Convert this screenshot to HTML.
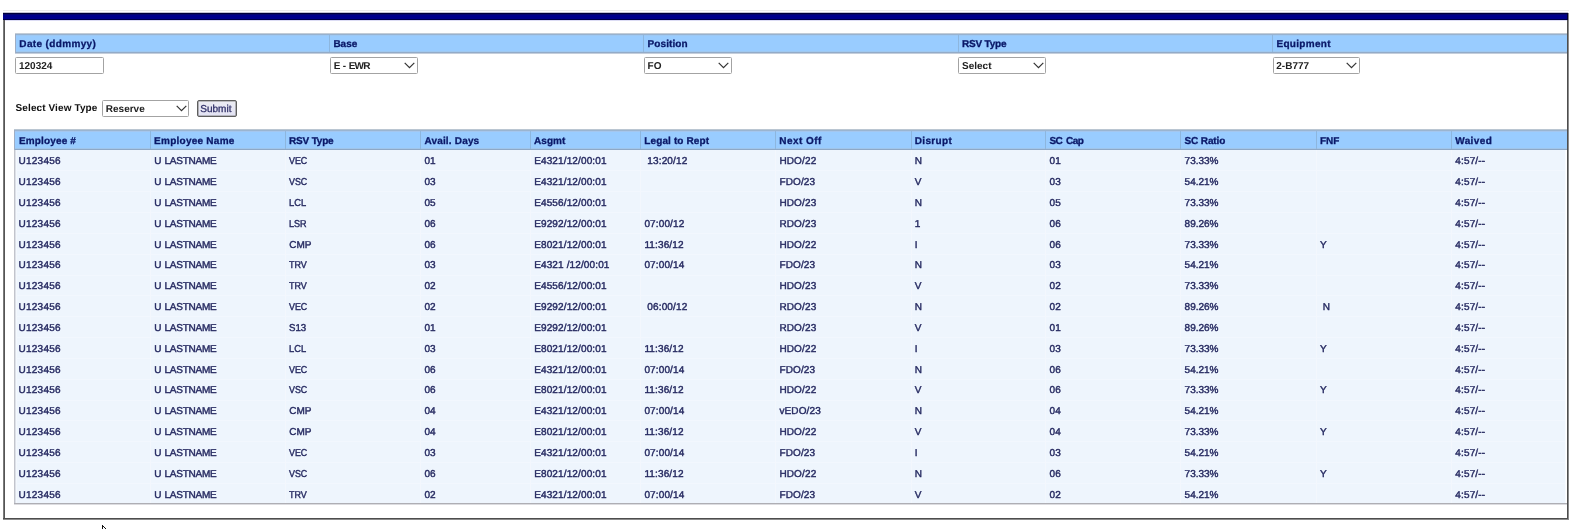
<!DOCTYPE html>
<html><head><meta charset="utf-8"><title>Reserve View</title>
<style>
html,body{margin:0;padding:0;background:#fff;}
body{width:1573px;height:529px;overflow:hidden;position:relative;
 font-family:"Liberation Sans",sans-serif;font-size:10px;line-height:12px;text-rendering:geometricPrecision;}
i{position:absolute;display:block;}
#root{position:absolute;left:0;top:0;width:1573px;height:529px;overflow:hidden;background:#fff;will-change:transform;}
.hd{position:absolute;font-weight:bold;color:#0a1868;white-space:pre;-webkit-text-stroke:0.3px #0a1868;}
.cl{position:absolute;color:#272b62;white-space:pre;-webkit-text-stroke:0.42px #272b62;}
.bx{position:absolute;box-sizing:border-box;background:#fff;border:1px solid #a3a3a3;border-radius:1.5px;}
.tx{position:absolute;color:#222;font-weight:bold;white-space:pre;}
.chev{position:absolute;}
</style></head><body><div id="root">

<i style="left:3px;top:10px;width:1566px;height:1px;background:#ededed"></i>
<i style="left:3px;top:12px;width:1565px;height:1px;background:#c4c4d4"></i>
<i style="left:3px;top:13px;width:1565px;height:1px;background:#00003a"></i>
<i style="left:3px;top:14px;width:1565px;height:1px;background:#06066e"></i>
<i style="left:3px;top:15px;width:1565px;height:4px;background:#00008c"></i>
<i style="left:3px;top:19px;width:1565px;height:1px;background:#000048"></i>
<i style="left:3px;top:20px;width:1565px;height:1px;background:#dcdcf4"></i>
<i style="left:1567px;top:13px;width:1px;height:7px;background:#000030"></i>
<i style="left:3px;top:20px;width:1px;height:499px;background:#7a7a7a"></i>
<i style="left:4px;top:20px;width:1px;height:498px;background:#555555"></i>
<i style="left:1567px;top:20px;width:1px;height:499px;background:#4d4d4d"></i>
<i style="left:1568px;top:13px;width:1px;height:506px;background:#8c8c8c"></i>
<i style="left:3px;top:518px;width:1565px;height:1px;background:#4d4d4d"></i>
<i style="left:3px;top:519px;width:1566px;height:1px;background:#8c8c8c"></i>
<i style="left:15px;top:33px;width:1552px;height:1px;background:#c3ccd6"></i>
<i style="left:15px;top:34px;width:1552px;height:1px;background:#97b2d0"></i>
<i style="left:15px;top:35px;width:1552px;height:1px;background:#9ec8f2"></i>
<i style="left:15px;top:36px;width:1552px;height:15px;background:#99ccff"></i>
<i style="left:15px;top:51px;width:1552px;height:1px;background:#9fc8ef"></i>
<i style="left:15px;top:52px;width:1552px;height:1px;background:#93abc8"></i>
<i style="left:15px;top:53px;width:1552px;height:1px;background:#c4cedb"></i>
<i style="left:15px;top:34px;width:1px;height:19px;background:#9eadc4"></i>
<i style="left:329px;top:35px;width:1px;height:17px;background:#8db6de"></i>
<i style="left:643px;top:35px;width:1px;height:17px;background:#8db6de"></i>
<i style="left:958px;top:35px;width:1px;height:17px;background:#8db6de"></i>
<i style="left:1272px;top:35px;width:1px;height:17px;background:#8db6de"></i>
<div class="hd" style="left:19.3px;top:39px;letter-spacing:0.36px">Date (ddmmyy)</div>
<div class="hd" style="left:333.4px;top:39px;letter-spacing:0px">Base</div>
<div class="hd" style="left:647.6px;top:39px;letter-spacing:0.08px">Position</div>
<div class="hd" style="left:962px;top:39px;letter-spacing:-0.2px">RSV Type</div>
<div class="hd" style="left:1276.4px;top:39px;letter-spacing:0.32px">Equipment</div>
<div class="bx" style="left:15px;top:57px;width:89px;height:17px"></div>
<div class="tx" style="left:19px;top:61px">120324</div>
<div class="bx" style="left:330.1px;top:57px;width:87.8px;height:17px"></div>
<div class="tx" style="left:333.7px;top:61px;letter-spacing:-0.15px">E - <span style="letter-spacing:-0.8px">EWR</span></div>
<svg class="chev" style="left:404.2px;top:61.6px" width="11" height="7" viewBox="0 0 11 7"><path d="M0.7 0.8 L5.5 5.6 L10.3 0.8" fill="none" stroke="#333" stroke-width="1.2"/></svg>
<div class="bx" style="left:644px;top:57px;width:87.8px;height:17px"></div>
<div class="tx" style="left:647.6px;top:61px">FO</div>
<svg class="chev" style="left:718.1px;top:61.6px" width="11" height="7" viewBox="0 0 11 7"><path d="M0.7 0.8 L5.5 5.6 L10.3 0.8" fill="none" stroke="#333" stroke-width="1.2"/></svg>
<div class="bx" style="left:958.4px;top:57px;width:87.8px;height:17px"></div>
<div class="tx" style="left:962px;top:61px">Select</div>
<svg class="chev" style="left:1032.5px;top:61.6px" width="11" height="7" viewBox="0 0 11 7"><path d="M0.7 0.8 L5.5 5.6 L10.3 0.8" fill="none" stroke="#333" stroke-width="1.2"/></svg>
<div class="bx" style="left:1272.7px;top:57px;width:87px;height:17px"></div>
<div class="tx" style="left:1276.3px;top:61px">2-B777</div>
<svg class="chev" style="left:1346px;top:61.6px" width="11" height="7" viewBox="0 0 11 7"><path d="M0.7 0.8 L5.5 5.6 L10.3 0.8" fill="none" stroke="#333" stroke-width="1.2"/></svg>
<div class="tx" style="left:15.6px;top:103px;color:#111;letter-spacing:0.1px">Select View Type</div>
<div class="bx" style="left:102.2px;top:100px;width:87.2px;height:17px"></div>
<div class="tx" style="left:105.8px;top:104px">Reserve</div>
<svg class="chev" style="left:175.7px;top:104.6px" width="11" height="7" viewBox="0 0 11 7"><path d="M0.7 0.8 L5.5 5.6 L10.3 0.8" fill="none" stroke="#333" stroke-width="1.2"/></svg>
<div style="position:absolute;left:197px;top:100px;width:40px;height:17px;box-sizing:border-box;border:1px solid #5e5e5e;box-shadow:inset 0 0 0 0.6px #8a8a8a;border-radius:2px;background:linear-gradient(#ececf2,#e2e2f4)"></div>
<div style="position:absolute;left:200.3px;top:104px;color:#303068;white-space:pre;-webkit-text-stroke:0.3px #303068">Submit</div>
<i style="left:14px;top:129px;width:1553px;height:1px;background:#bac6d2"></i>
<i style="left:14px;top:130px;width:1553px;height:1px;background:#9ab4d0"></i>
<i style="left:14px;top:131px;width:1553px;height:1px;background:#a4c6ee"></i>
<i style="left:14px;top:132px;width:1553px;height:16px;background:#99ccff"></i>
<i style="left:14px;top:148px;width:1553px;height:1px;background:#a0c5ea"></i>
<i style="left:14px;top:149px;width:1553px;height:1px;background:#8ea8c6"></i>
<i style="left:14px;top:130px;width:1px;height:20px;background:#9eadc4"></i>
<i style="left:150px;top:131px;width:1px;height:18px;background:#8db6de"></i>
<i style="left:285px;top:131px;width:1px;height:18px;background:#8db6de"></i>
<i style="left:420px;top:131px;width:1px;height:18px;background:#8db6de"></i>
<i style="left:530px;top:131px;width:1px;height:18px;background:#8db6de"></i>
<i style="left:640px;top:131px;width:1px;height:18px;background:#8db6de"></i>
<i style="left:775px;top:131px;width:1px;height:18px;background:#8db6de"></i>
<i style="left:911px;top:131px;width:1px;height:18px;background:#8db6de"></i>
<i style="left:1045px;top:131px;width:1px;height:18px;background:#8db6de"></i>
<i style="left:1180px;top:131px;width:1px;height:18px;background:#8db6de"></i>
<i style="left:1316px;top:131px;width:1px;height:18px;background:#8db6de"></i>
<i style="left:1451px;top:131px;width:1px;height:18px;background:#8db6de"></i>
<div class="hd" style="left:19px;top:136px;letter-spacing:0.15px">Employee #</div>
<div class="hd" style="left:154.1px;top:136px;letter-spacing:0.25px">Employee Name</div>
<div class="hd" style="left:289.1px;top:136px;letter-spacing:-0.2px">RSV Type</div>
<div class="hd" style="left:424.4px;top:136px;letter-spacing:0.18px">Avail. Days</div>
<div class="hd" style="left:534.1px;top:136px;letter-spacing:0px">Asgmt</div>
<div class="hd" style="left:644.3px;top:136px;letter-spacing:0.12px">Legal to Rept</div>
<div class="hd" style="left:779.3px;top:136px;letter-spacing:0.45px">Next Off</div>
<div class="hd" style="left:914.7px;top:136px;letter-spacing:0.35px">Disrupt</div>
<div class="hd" style="left:1049.5px;top:136px;letter-spacing:-0.55px;word-spacing:1.6px">SC Cap</div>
<div class="hd" style="left:1184.5px;top:136px;letter-spacing:-0.12px">SC Ratio</div>
<div class="hd" style="left:1319.9px;top:136px;letter-spacing:0px">FNF</div>
<div class="hd" style="left:1455.2px;top:136px;letter-spacing:0.4px">Waived</div>
<i style="left:14px;top:150px;width:1552px;height:353px;background:#eef5fd"></i>
<i style="left:14px;top:150px;width:1px;height:354px;background:#c2c4cc"></i>
<i style="left:15px;top:150px;width:1px;height:353px;background:#dde1e8"></i>
<i style="left:16px;top:150px;width:1px;height:353px;background:#f4f8fd"></i>
<i style="left:1565px;top:150px;width:1px;height:353px;background:#f8fbff"></i>
<i style="left:16px;top:170px;width:1549px;height:1px;background:#f2f7fe"></i>
<i style="left:16px;top:191px;width:1549px;height:1px;background:#f2f7fe"></i>
<i style="left:16px;top:212px;width:1549px;height:1px;background:#f2f7fe"></i>
<i style="left:16px;top:233px;width:1549px;height:1px;background:#f2f7fe"></i>
<i style="left:16px;top:254px;width:1549px;height:1px;background:#f2f7fe"></i>
<i style="left:16px;top:275px;width:1549px;height:1px;background:#f2f7fe"></i>
<i style="left:16px;top:295px;width:1549px;height:1px;background:#f2f7fe"></i>
<i style="left:16px;top:316px;width:1549px;height:1px;background:#f2f7fe"></i>
<i style="left:16px;top:337px;width:1549px;height:1px;background:#f2f7fe"></i>
<i style="left:16px;top:358px;width:1549px;height:1px;background:#f2f7fe"></i>
<i style="left:16px;top:379px;width:1549px;height:1px;background:#f2f7fe"></i>
<i style="left:16px;top:400px;width:1549px;height:1px;background:#f2f7fe"></i>
<i style="left:16px;top:420px;width:1549px;height:1px;background:#f2f7fe"></i>
<i style="left:16px;top:441px;width:1549px;height:1px;background:#f2f7fe"></i>
<i style="left:16px;top:462px;width:1549px;height:1px;background:#f2f7fe"></i>
<i style="left:16px;top:483px;width:1549px;height:1px;background:#f2f7fe"></i>
<i style="left:14px;top:503px;width:1553px;height:1px;background:#aeaeb4"></i>
<i style="left:14px;top:504px;width:1553px;height:1px;background:#dcdce0"></i>
<i style="left:150px;top:150px;width:1px;height:353px;background:#f3f7fd"></i>
<i style="left:285px;top:150px;width:1px;height:353px;background:#f3f7fd"></i>
<i style="left:420px;top:150px;width:1px;height:353px;background:#f3f7fd"></i>
<i style="left:530px;top:150px;width:1px;height:353px;background:#f3f7fd"></i>
<i style="left:640px;top:150px;width:1px;height:353px;background:#f3f7fd"></i>
<i style="left:775px;top:150px;width:1px;height:353px;background:#f3f7fd"></i>
<i style="left:911px;top:150px;width:1px;height:353px;background:#f3f7fd"></i>
<i style="left:1045px;top:150px;width:1px;height:353px;background:#f3f7fd"></i>
<i style="left:1180px;top:150px;width:1px;height:353px;background:#f3f7fd"></i>
<i style="left:1316px;top:150px;width:1px;height:353px;background:#f3f7fd"></i>
<i style="left:1451px;top:150px;width:1px;height:353px;background:#f3f7fd"></i>
<div class="cl" style="left:18.5px;top:156px;letter-spacing:0.25px">U123456</div>
<div class="cl" style="left:154.2px;top:156px;letter-spacing:-0.26px;word-spacing:0.9px">U LASTNAME</div>
<div class="cl" style="left:289.2px;top:156px;letter-spacing:0px;transform:scaleX(0.89);transform-origin:0 0px">VEC</div>
<div class="cl" style="left:424.5px;top:156px">01</div>
<div class="cl" style="left:534.2px;top:156px;letter-spacing:0.13px">E4321/12/00:01</div>
<div class="cl" style="left:644.4px;top:156px;letter-spacing:0.14px">&nbsp;13:20/12</div>
<div class="cl" style="left:779.4px;top:156px;letter-spacing:0.14px">HDO/22</div>
<div class="cl" style="left:914.8px;top:156px">N</div>
<div class="cl" style="left:1049.6px;top:156px">01</div>
<div class="cl" style="left:1184.6px;top:156px">73.33%</div>
<div class="cl" style="left:1455.3px;top:156px;letter-spacing:0.15px">4:57/--</div>
<div class="cl" style="left:18.5px;top:177px;letter-spacing:0.25px">U123456</div>
<div class="cl" style="left:154.2px;top:177px;letter-spacing:-0.26px;word-spacing:0.9px">U LASTNAME</div>
<div class="cl" style="left:289.2px;top:177px;letter-spacing:0px;transform:scaleX(0.89);transform-origin:0 0px">VSC</div>
<div class="cl" style="left:424.5px;top:177px">03</div>
<div class="cl" style="left:534.2px;top:177px;letter-spacing:0.13px">E4321/12/00:01</div>
<div class="cl" style="left:779.4px;top:177px;letter-spacing:0.14px">FDO/23</div>
<div class="cl" style="left:914.8px;top:177px">V</div>
<div class="cl" style="left:1049.6px;top:177px">03</div>
<div class="cl" style="left:1184.6px;top:177px">54.21%</div>
<div class="cl" style="left:1455.3px;top:177px;letter-spacing:0.15px">4:57/--</div>
<div class="cl" style="left:18.5px;top:198px;letter-spacing:0.25px">U123456</div>
<div class="cl" style="left:154.2px;top:198px;letter-spacing:-0.26px;word-spacing:0.9px">U LASTNAME</div>
<div class="cl" style="left:289.2px;top:198px;letter-spacing:0px;transform:scaleX(0.93);transform-origin:0 0px">LCL</div>
<div class="cl" style="left:424.5px;top:198px">05</div>
<div class="cl" style="left:534.2px;top:198px;letter-spacing:0.13px">E4556/12/00:01</div>
<div class="cl" style="left:779.4px;top:198px;letter-spacing:0.14px">HDO/23</div>
<div class="cl" style="left:914.8px;top:198px">N</div>
<div class="cl" style="left:1049.6px;top:198px">05</div>
<div class="cl" style="left:1184.6px;top:198px">73.33%</div>
<div class="cl" style="left:1455.3px;top:198px;letter-spacing:0.15px">4:57/--</div>
<div class="cl" style="left:18.5px;top:219px;letter-spacing:0.25px">U123456</div>
<div class="cl" style="left:154.2px;top:219px;letter-spacing:-0.26px;word-spacing:0.9px">U LASTNAME</div>
<div class="cl" style="left:289.2px;top:219px;letter-spacing:0px;transform:scaleX(0.905);transform-origin:0 0px">LSR</div>
<div class="cl" style="left:424.5px;top:219px">06</div>
<div class="cl" style="left:534.2px;top:219px;letter-spacing:0.13px">E9292/12/00:01</div>
<div class="cl" style="left:644.4px;top:219px;letter-spacing:0.14px">07:00/12</div>
<div class="cl" style="left:779.4px;top:219px;letter-spacing:0.14px">RDO/23</div>
<div class="cl" style="left:914.8px;top:219px">1</div>
<div class="cl" style="left:1049.6px;top:219px">06</div>
<div class="cl" style="left:1184.6px;top:219px">89.26%</div>
<div class="cl" style="left:1455.3px;top:219px;letter-spacing:0.15px">4:57/--</div>
<div class="cl" style="left:18.5px;top:240px;letter-spacing:0.25px">U123456</div>
<div class="cl" style="left:154.2px;top:240px;letter-spacing:-0.26px;word-spacing:0.9px">U LASTNAME</div>
<div class="cl" style="left:289.2px;top:240px">CMP</div>
<div class="cl" style="left:424.5px;top:240px">06</div>
<div class="cl" style="left:534.2px;top:240px;letter-spacing:0.13px">E8021/12/00:01</div>
<div class="cl" style="left:644.4px;top:240px;letter-spacing:0.14px">11:36/12</div>
<div class="cl" style="left:779.4px;top:240px;letter-spacing:0.14px">HDO/22</div>
<div class="cl" style="left:914.8px;top:240px">I</div>
<div class="cl" style="left:1049.6px;top:240px">06</div>
<div class="cl" style="left:1184.6px;top:240px">73.33%</div>
<div class="cl" style="left:1320px;top:240px">Y</div>
<div class="cl" style="left:1455.3px;top:240px;letter-spacing:0.15px">4:57/--</div>
<div class="cl" style="left:18.5px;top:260px;letter-spacing:0.25px">U123456</div>
<div class="cl" style="left:154.2px;top:260px;letter-spacing:-0.26px;word-spacing:0.9px">U LASTNAME</div>
<div class="cl" style="left:289.2px;top:260px;letter-spacing:0px;transform:scaleX(0.9);transform-origin:0 0px">TRV</div>
<div class="cl" style="left:424.5px;top:260px">03</div>
<div class="cl" style="left:534.2px;top:260px;letter-spacing:0.13px">E4321 /12/00:01</div>
<div class="cl" style="left:644.4px;top:260px;letter-spacing:0.14px">07:00/14</div>
<div class="cl" style="left:779.4px;top:260px;letter-spacing:0.14px">FDO/23</div>
<div class="cl" style="left:914.8px;top:260px">N</div>
<div class="cl" style="left:1049.6px;top:260px">03</div>
<div class="cl" style="left:1184.6px;top:260px">54.21%</div>
<div class="cl" style="left:1455.3px;top:260px;letter-spacing:0.15px">4:57/--</div>
<div class="cl" style="left:18.5px;top:281px;letter-spacing:0.25px">U123456</div>
<div class="cl" style="left:154.2px;top:281px;letter-spacing:-0.26px;word-spacing:0.9px">U LASTNAME</div>
<div class="cl" style="left:289.2px;top:281px;letter-spacing:0px;transform:scaleX(0.9);transform-origin:0 0px">TRV</div>
<div class="cl" style="left:424.5px;top:281px">02</div>
<div class="cl" style="left:534.2px;top:281px;letter-spacing:0.13px">E4556/12/00:01</div>
<div class="cl" style="left:779.4px;top:281px;letter-spacing:0.14px">HDO/23</div>
<div class="cl" style="left:914.8px;top:281px">V</div>
<div class="cl" style="left:1049.6px;top:281px">02</div>
<div class="cl" style="left:1184.6px;top:281px">73.33%</div>
<div class="cl" style="left:1455.3px;top:281px;letter-spacing:0.15px">4:57/--</div>
<div class="cl" style="left:18.5px;top:302px;letter-spacing:0.25px">U123456</div>
<div class="cl" style="left:154.2px;top:302px;letter-spacing:-0.26px;word-spacing:0.9px">U LASTNAME</div>
<div class="cl" style="left:289.2px;top:302px;letter-spacing:0px;transform:scaleX(0.89);transform-origin:0 0px">VEC</div>
<div class="cl" style="left:424.5px;top:302px">02</div>
<div class="cl" style="left:534.2px;top:302px;letter-spacing:0.13px">E9292/12/00:01</div>
<div class="cl" style="left:644.4px;top:302px;letter-spacing:0.14px">&nbsp;06:00/12</div>
<div class="cl" style="left:779.4px;top:302px;letter-spacing:0.14px">RDO/23</div>
<div class="cl" style="left:914.8px;top:302px">N</div>
<div class="cl" style="left:1049.6px;top:302px">02</div>
<div class="cl" style="left:1184.6px;top:302px">89.26%</div>
<div class="cl" style="left:1320px;top:302px">&nbsp;N</div>
<div class="cl" style="left:1455.3px;top:302px;letter-spacing:0.15px">4:57/--</div>
<div class="cl" style="left:18.5px;top:323px;letter-spacing:0.25px">U123456</div>
<div class="cl" style="left:154.2px;top:323px;letter-spacing:-0.26px;word-spacing:0.9px">U LASTNAME</div>
<div class="cl" style="left:289.2px;top:323px;letter-spacing:0px;transform:scaleX(0.97);transform-origin:0 0px">S13</div>
<div class="cl" style="left:424.5px;top:323px">01</div>
<div class="cl" style="left:534.2px;top:323px;letter-spacing:0.13px">E9292/12/00:01</div>
<div class="cl" style="left:779.4px;top:323px;letter-spacing:0.14px">RDO/23</div>
<div class="cl" style="left:914.8px;top:323px">V</div>
<div class="cl" style="left:1049.6px;top:323px">01</div>
<div class="cl" style="left:1184.6px;top:323px">89.26%</div>
<div class="cl" style="left:1455.3px;top:323px;letter-spacing:0.15px">4:57/--</div>
<div class="cl" style="left:18.5px;top:344px;letter-spacing:0.25px">U123456</div>
<div class="cl" style="left:154.2px;top:344px;letter-spacing:-0.26px;word-spacing:0.9px">U LASTNAME</div>
<div class="cl" style="left:289.2px;top:344px;letter-spacing:0px;transform:scaleX(0.93);transform-origin:0 0px">LCL</div>
<div class="cl" style="left:424.5px;top:344px">03</div>
<div class="cl" style="left:534.2px;top:344px;letter-spacing:0.13px">E8021/12/00:01</div>
<div class="cl" style="left:644.4px;top:344px;letter-spacing:0.14px">11:36/12</div>
<div class="cl" style="left:779.4px;top:344px;letter-spacing:0.14px">HDO/22</div>
<div class="cl" style="left:914.8px;top:344px">I</div>
<div class="cl" style="left:1049.6px;top:344px">03</div>
<div class="cl" style="left:1184.6px;top:344px">73.33%</div>
<div class="cl" style="left:1320px;top:344px">Y</div>
<div class="cl" style="left:1455.3px;top:344px;letter-spacing:0.15px">4:57/--</div>
<div class="cl" style="left:18.5px;top:365px;letter-spacing:0.25px">U123456</div>
<div class="cl" style="left:154.2px;top:365px;letter-spacing:-0.26px;word-spacing:0.9px">U LASTNAME</div>
<div class="cl" style="left:289.2px;top:365px;letter-spacing:0px;transform:scaleX(0.89);transform-origin:0 0px">VEC</div>
<div class="cl" style="left:424.5px;top:365px">06</div>
<div class="cl" style="left:534.2px;top:365px;letter-spacing:0.13px">E4321/12/00:01</div>
<div class="cl" style="left:644.4px;top:365px;letter-spacing:0.14px">07:00/14</div>
<div class="cl" style="left:779.4px;top:365px;letter-spacing:0.14px">FDO/23</div>
<div class="cl" style="left:914.8px;top:365px">N</div>
<div class="cl" style="left:1049.6px;top:365px">06</div>
<div class="cl" style="left:1184.6px;top:365px">54.21%</div>
<div class="cl" style="left:1455.3px;top:365px;letter-spacing:0.15px">4:57/--</div>
<div class="cl" style="left:18.5px;top:385px;letter-spacing:0.25px">U123456</div>
<div class="cl" style="left:154.2px;top:385px;letter-spacing:-0.26px;word-spacing:0.9px">U LASTNAME</div>
<div class="cl" style="left:289.2px;top:385px;letter-spacing:0px;transform:scaleX(0.89);transform-origin:0 0px">VSC</div>
<div class="cl" style="left:424.5px;top:385px">06</div>
<div class="cl" style="left:534.2px;top:385px;letter-spacing:0.13px">E8021/12/00:01</div>
<div class="cl" style="left:644.4px;top:385px;letter-spacing:0.14px">11:36/12</div>
<div class="cl" style="left:779.4px;top:385px;letter-spacing:0.14px">HDO/22</div>
<div class="cl" style="left:914.8px;top:385px">V</div>
<div class="cl" style="left:1049.6px;top:385px">06</div>
<div class="cl" style="left:1184.6px;top:385px">73.33%</div>
<div class="cl" style="left:1320px;top:385px">Y</div>
<div class="cl" style="left:1455.3px;top:385px;letter-spacing:0.15px">4:57/--</div>
<div class="cl" style="left:18.5px;top:406px;letter-spacing:0.25px">U123456</div>
<div class="cl" style="left:154.2px;top:406px;letter-spacing:-0.26px;word-spacing:0.9px">U LASTNAME</div>
<div class="cl" style="left:289.2px;top:406px">CMP</div>
<div class="cl" style="left:424.5px;top:406px">04</div>
<div class="cl" style="left:534.2px;top:406px;letter-spacing:0.13px">E4321/12/00:01</div>
<div class="cl" style="left:644.4px;top:406px;letter-spacing:0.14px">07:00/14</div>
<div class="cl" style="left:779.4px;top:406px;letter-spacing:0.14px">vEDO/23</div>
<div class="cl" style="left:914.8px;top:406px">N</div>
<div class="cl" style="left:1049.6px;top:406px">04</div>
<div class="cl" style="left:1184.6px;top:406px">54.21%</div>
<div class="cl" style="left:1455.3px;top:406px;letter-spacing:0.15px">4:57/--</div>
<div class="cl" style="left:18.5px;top:427px;letter-spacing:0.25px">U123456</div>
<div class="cl" style="left:154.2px;top:427px;letter-spacing:-0.26px;word-spacing:0.9px">U LASTNAME</div>
<div class="cl" style="left:289.2px;top:427px">CMP</div>
<div class="cl" style="left:424.5px;top:427px">04</div>
<div class="cl" style="left:534.2px;top:427px;letter-spacing:0.13px">E8021/12/00:01</div>
<div class="cl" style="left:644.4px;top:427px;letter-spacing:0.14px">11:36/12</div>
<div class="cl" style="left:779.4px;top:427px;letter-spacing:0.14px">HDO/22</div>
<div class="cl" style="left:914.8px;top:427px">V</div>
<div class="cl" style="left:1049.6px;top:427px">04</div>
<div class="cl" style="left:1184.6px;top:427px">73.33%</div>
<div class="cl" style="left:1320px;top:427px">Y</div>
<div class="cl" style="left:1455.3px;top:427px;letter-spacing:0.15px">4:57/--</div>
<div class="cl" style="left:18.5px;top:448px;letter-spacing:0.25px">U123456</div>
<div class="cl" style="left:154.2px;top:448px;letter-spacing:-0.26px;word-spacing:0.9px">U LASTNAME</div>
<div class="cl" style="left:289.2px;top:448px;letter-spacing:0px;transform:scaleX(0.89);transform-origin:0 0px">VEC</div>
<div class="cl" style="left:424.5px;top:448px">03</div>
<div class="cl" style="left:534.2px;top:448px;letter-spacing:0.13px">E4321/12/00:01</div>
<div class="cl" style="left:644.4px;top:448px;letter-spacing:0.14px">07:00/14</div>
<div class="cl" style="left:779.4px;top:448px;letter-spacing:0.14px">FDO/23</div>
<div class="cl" style="left:914.8px;top:448px">I</div>
<div class="cl" style="left:1049.6px;top:448px">03</div>
<div class="cl" style="left:1184.6px;top:448px">54.21%</div>
<div class="cl" style="left:1455.3px;top:448px;letter-spacing:0.15px">4:57/--</div>
<div class="cl" style="left:18.5px;top:469px;letter-spacing:0.25px">U123456</div>
<div class="cl" style="left:154.2px;top:469px;letter-spacing:-0.26px;word-spacing:0.9px">U LASTNAME</div>
<div class="cl" style="left:289.2px;top:469px;letter-spacing:0px;transform:scaleX(0.89);transform-origin:0 0px">VSC</div>
<div class="cl" style="left:424.5px;top:469px">06</div>
<div class="cl" style="left:534.2px;top:469px;letter-spacing:0.13px">E8021/12/00:01</div>
<div class="cl" style="left:644.4px;top:469px;letter-spacing:0.14px">11:36/12</div>
<div class="cl" style="left:779.4px;top:469px;letter-spacing:0.14px">HDO/22</div>
<div class="cl" style="left:914.8px;top:469px">N</div>
<div class="cl" style="left:1049.6px;top:469px">06</div>
<div class="cl" style="left:1184.6px;top:469px">73.33%</div>
<div class="cl" style="left:1320px;top:469px">Y</div>
<div class="cl" style="left:1455.3px;top:469px;letter-spacing:0.15px">4:57/--</div>
<div class="cl" style="left:18.5px;top:490px;letter-spacing:0.25px">U123456</div>
<div class="cl" style="left:154.2px;top:490px;letter-spacing:-0.26px;word-spacing:0.9px">U LASTNAME</div>
<div class="cl" style="left:289.2px;top:490px;letter-spacing:0px;transform:scaleX(0.9);transform-origin:0 0px">TRV</div>
<div class="cl" style="left:424.5px;top:490px">02</div>
<div class="cl" style="left:534.2px;top:490px;letter-spacing:0.13px">E4321/12/00:01</div>
<div class="cl" style="left:644.4px;top:490px;letter-spacing:0.14px">07:00/14</div>
<div class="cl" style="left:779.4px;top:490px;letter-spacing:0.14px">FDO/23</div>
<div class="cl" style="left:914.8px;top:490px">V</div>
<div class="cl" style="left:1049.6px;top:490px">02</div>
<div class="cl" style="left:1184.6px;top:490px">54.21%</div>
<div class="cl" style="left:1455.3px;top:490px;letter-spacing:0.15px">4:57/--</div>
<i style="left:102px;top:525px;width:1px;height:4px;background:#111"></i>
<i style="left:103px;top:526px;width:1px;height:1px;background:#111"></i>
<i style="left:103px;top:527px;width:1px;height:2px;background:#fff"></i>
<i style="left:104px;top:527px;width:1px;height:1px;background:#111"></i>
<i style="left:104px;top:528px;width:1px;height:1px;background:#fff"></i>
<i style="left:105px;top:528px;width:1px;height:1px;background:#111"></i>
</div></body></html>
